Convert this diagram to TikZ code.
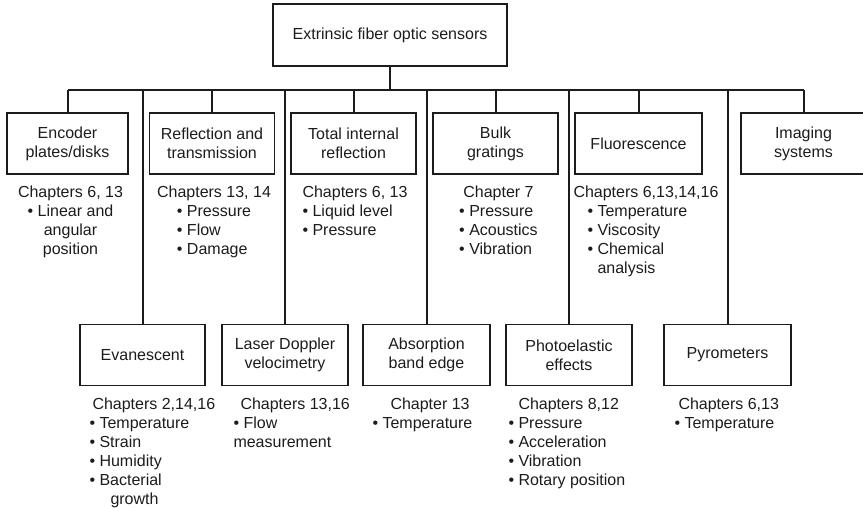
\documentclass[tikz,border=0pt]{standalone}
\usepackage{fontspec}
\setmainfont{Liberation Sans}
\usetikzlibrary{positioning}
\definecolor{ink}{RGB}{28,28,28}
\tikzset{
  box/.style={draw=ink, line width=1.4pt, minimum width=125pt, minimum height=61pt,
              inner sep=2pt, align=center, font=\fontsize{16}{19}\selectfont, text=ink},
  info/.style={inner sep=0pt, align=center, font=\fontsize{16}{19}\selectfont, text=ink},
  link/.style={draw=ink, line width=2pt},
}
\newcommand{\bullets}[1]{\begin{tabular}[t]{@{}l@{}}#1\end{tabular}}

\begin{document}
\begin{tikzpicture}[x=1pt, y=-1pt]
  \useasboundingbox (0,0) rectangle (863,507);
  \node[box, minimum width=234pt, minimum height=62pt] (top) at (390,35) {Extrinsic fiber optic sensors};
  \coordinate (bus) at (0,90);
  % upper row
  \node[box, minimum width=121pt] (enc) at (67.5,143.5) {Encoder\\plates/disks};
  \node[box] (refl) at (212,143.5) {Reflection and\\transmission};
  \node[box] (tir) at (353.5,143.5) {Total internal\\reflection};
  \node[box] (bulk) at (495.5,143.5) {Bulk\\gratings};
  \node[box, minimum width=127pt] (fluo) at (638.5,143.5) {Fluorescence};
  \node[box] (imag) at (803.5,143.5) {Imaging\\systems};
  % lower row
  \node[box] (evan) at (142.5,355) {Evanescent};
  \node[box, minimum width=126pt] (ldv) at (285,355) {Laser Doppler\\velocimetry};
  \node[box, minimum width=127pt] (absb) at (426.5,355) {Absorption\\band edge};
  \node[box, minimum width=126pt] (photo) at (569,355) {Photoelastic\\effects};
  \node[box, minimum width=127pt] (pyro) at (727.5,355) {Pyrometers};
  % texts under the boxes
  \node[info, below=11pt of enc, xshift=3pt] (encinfo) {Chapters 6, 13\\• Linear and\\angular\\position};
  \node[info, below=11pt of refl, xshift=2pt] (reflinfo) {Chapters 13, 14\\\bullets{• Pressure\\• Flow\\• Damage}};
  \node[info, below=11pt of tir, align=left, xshift=1.5pt] (tirinfo) {Chapters 6, 13\\• Liquid level\\• Pressure};
  \node[info, below=11pt of bulk, xshift=3pt] (bulkinfo) {Chapter 7\\\bullets{• Pressure\\• Acoustics\\• Vibration}};
  \node[info, align=left, below right=11pt and -1pt of fluo.south west] (fluoinfo)
    {Chapters 6,13,14,16\\\hspace*{14pt}\bullets{• Temperature\\• Viscosity\\• Chemical\\\phantom{• }analysis}};
  \node[info, align=left, below right=11pt and 10pt of evan.south west] (evaninfo)
    {\hspace*{3pt}Chapters 2,14,16\\• Temperature\\• Strain\\• Humidity\\• Bacterial\\\hspace*{21pt}growth};
  \node[info, align=left, below right=11pt and 12pt of ldv.south west] (ldvinfo)
    {\hspace*{7pt}Chapters 13,16\\• Flow\\measurement};
  \node[info, align=left, below right=11pt and 10pt of absb.south west] (absbinfo)
    {\hspace*{18pt}Chapter 13\\• Temperature};
  \node[info, align=left, below right=11pt and 3pt of photo.south west] (photoinfo)
    {\hspace*{10pt}Chapters 8,12\\• Pressure\\• Acceleration\\• Vibration\\• Rotary position};
  \node[info, align=left, below right=11pt and 11pt of pyro.south west] (pyroinfo)
    {\hspace*{4pt}Chapters 6,13\\• Temperature};
  % tree lines
  \draw[link] (top) -- (top |- bus);
  \draw[link] (enc.north |- bus) -- (imag.north |- bus);
  \foreach \n in {enc,refl,tir,bulk,fluo,imag,evan,ldv,absb,photo,pyro}
    \draw[link] (\n.north |- bus) -- (\n);
\end{tikzpicture}
\end{document}
